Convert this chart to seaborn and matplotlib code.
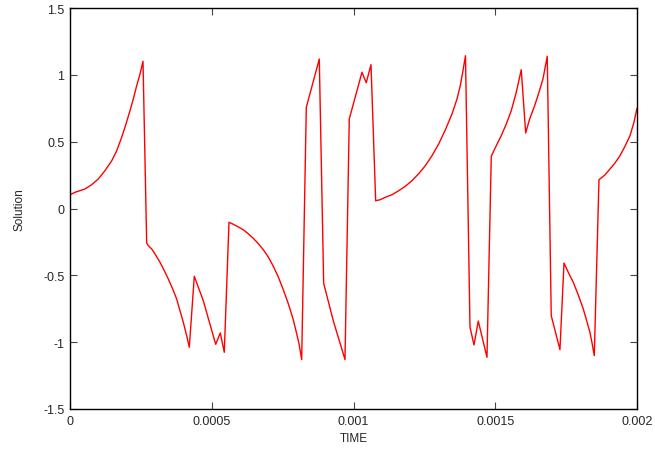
import matplotlib
matplotlib.use("Agg")
import matplotlib.pyplot as plt
import seaborn as sns
import pandas as pd

time = [0.0, 1.76e-5, 5.29e-5, 7.65e-5, 9.98e-5, 1.234e-4, 1.474e-4, 1.647e-4, 1.823e-4,
        1.975e-4, 2.116e-4, 2.233e-4, 2.353e-4, 2.469e-4, 2.575e-4,
        2.705e-4, 2.762e-4, 2.882e-4, 2.998e-4, 3.174e-4, 3.326e-4, 3.467e-4, 3.622e-4,
        3.763e-4, 3.880e-4, 3.996e-4, 4.116e-4, 4.208e-4,
        4.384e-4, 4.702e-4, 5.139e-4, 5.301e-4, 5.442e-4,
        5.608e-4, 5.760e-4, 5.936e-4, 6.112e-4, 6.289e-4, 6.465e-4, 6.642e-4, 6.818e-4,
        6.994e-4, 7.171e-4, 7.347e-4, 7.523e-4, 7.700e-4, 7.876e-4, 7.996e-4, 8.077e-4, 8.172e-4,
        8.335e-4, 8.793e-4, 8.948e-4, 9.287e-4, 9.700e-4,
        9.851e-4, 1.0299e-3, 1.0450e-3, 1.0617e-3,
        1.0782e-3, 1.0944e-3, 1.1121e-3, 1.1357e-3, 1.1593e-3, 1.1826e-3, 1.2063e-3, 1.2299e-3,
        1.2532e-3, 1.2768e-3, 1.3005e-3, 1.3237e-3, 1.3474e-3, 1.3650e-3, 1.3767e-3, 1.3861e-3, 1.395e-3,
        1.4109e-3, 1.4250e-3, 1.4401e-3, 1.4708e-3,
        1.4860e-3, 1.5036e-3, 1.5212e-3, 1.5389e-3, 1.5565e-3, 1.5741e-3, 1.5917e-3,
        1.6073e-3, 1.6214e-3, 1.6390e-3, 1.6542e-3, 1.6683e-3, 1.6834e-3,
        1.6975e-3, 1.7282e-3,
        1.7425e-3, 1.7575e-3, 1.7753e-3, 1.7928e-3, 1.8106e-3, 1.8224e-3, 1.834e-3, 1.8421e-3, 1.8493e-3,
        1.8659e-3, 1.8869e-3, 1.9048e-3, 1.9222e-3, 1.9400e-3, 1.9575e-3, 1.9753e-3, 1.9893e-3, 2.0e-3]
solution = [0.103, 0.121, 0.146, 0.178, 0.221, 0.283, 0.358, 0.432, 0.533,
            0.632, 0.732, 0.819, 0.919, 1.006, 1.101,
            -0.258, -0.278, -0.303, -0.340, -0.402, -0.465, -0.527, -0.602,
            -0.677, -0.765, -0.851, -0.952, -1.038,
            -0.507, -0.69, -1.016, -0.931, -1.076,
            -0.103, -0.118, -0.138, -0.159, -0.189, -0.223, -0.263, -0.308,
            -0.363, -0.432, -0.512, -0.607, -0.712, -0.832, -0.937, -1.011, -1.13,
            0.757, 1.118, -0.560, -0.84, -1.13,
            0.670, 1.019, 0.941, 1.076,
            0.058, 0.066, 0.084, 0.103, 0.133, 0.166, 0.208, 0.260,
            0.320, 0.395, 0.483, 0.587, 0.707, 0.819, 0.919, 1.031, 1.143,
            -0.887, -1.021, -0.842, -1.113,
            0.391, 0.470, 0.545, 0.632, 0.732, 0.869, 1.038,
            0.565, 0.670, 0.769, 0.869, 0.969, 1.139,
            -0.802, -1.056,
            -0.408, -0.477, -0.552, -0.647, -0.752, -0.839, -0.926, -1.014, -1.101,
            0.215, 0.251, 0.296, 0.340, 0.395, 0.465, 0.545, 0.645, 0.750]

xticks = [0, 0.0005, 0.001, 0.0015, 0.002]
xticklabels = ["0", "0.0005", "0.001", "0.0015", "0.002"]
yticks = [-1.5, -1, -0.5, 0, 0.5, 1, 1.5]
yticklabels = ["-1.5", "-1", "-0.5", "0", "0.5", "1", "1.5"]

sns.set_style("ticks")
plt.rcParams['font.family'] = ['Liberation Sans', 'DejaVu Sans']

df = pd.DataFrame({"TIME": time, "Solution": solution})

fig = plt.figure(figsize=(6.55, 4.52), dpi=100)
ax = fig.add_axes([70/655, 42/452, 567/655, 401/452])
sns.lineplot(data=df, x="TIME", y="Solution", color="#ff0000", linewidth=1.0,
             estimator=None, sort=False, ax=ax)

ax.set_xlim(0, 0.002)
ax.set_ylim(-1.5, 1.5)
ax.set_xticks(xticks)
ax.set_xticklabels(xticklabels)
ax.set_yticks(yticks)
ax.set_yticklabels(yticklabels)
ax.tick_params(direction="in", length=5, width=0.8, color="#444444", labelsize=9,
               top=True, right=True, pad=4)
for s in ax.spines.values():
    s.set_visible(True)
    s.set_linewidth(1.0)
    s.set_color("black")
ax.set_xlabel("TIME", fontsize=8.5, labelpad=4)
ax.set_ylabel("Solution", fontsize=8.5, labelpad=13)

fig.savefig("out.png", dpi=100)
